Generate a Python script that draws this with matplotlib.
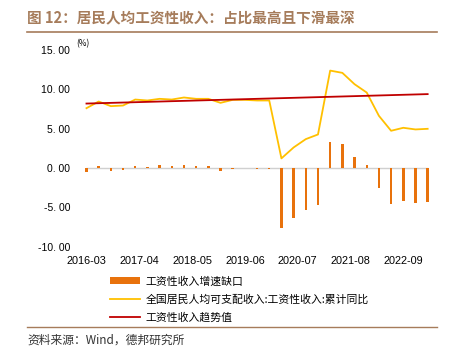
import matplotlib
matplotlib.use("Agg")
import matplotlib.pyplot as plt
from matplotlib.lines import Line2D

plt.rcParams['font.family'] = ['Noto Sans CJK SC', 'DejaVu Sans']

# quarterly points, 2016-03 .. 2023-03, x in months since 2016-03
months = list(range(0, 85, 3))
tick_pos = [0, 13, 26, 39, 52, 65, 78]
tick_labels = ["2016-03", "2017-04", "2018-05", "2019-06", "2020-07", "2021-08", "2022-09"]

wage_yoy = [7.61, 8.46, 7.87, 7.95, 8.71, 8.59, 8.80, 8.71, 8.97, 8.80,
            8.80, 8.29, 8.67, 8.67, 8.59, 8.59, 1.23, 2.62, 3.68, 4.27,
            12.39, 12.10, 10.66, 9.60, 6.64, 4.74, 5.12, 4.91, 4.99]
gap = [-0.45, 0.2, -0.35, -0.25, 0.3, 0.15, 0.35, 0.2, 0.45, 0.25,
       0.2, -0.35, -0.15, 0.05, -0.12, -0.15, -7.66, -6.39, -5.33, -4.65,
       3.34, 3.0, 1.44, 0.42, -2.58, -4.57, -4.19, -4.44, -4.36]
trend_x = [0, 84]
trend = [8.2, 9.4]

brown = "#A67C5B"
orange = "#E8720C"
yellow = "#FFC000"
red = "#C00000"

fig = plt.figure(figsize=(4.57, 3.5), dpi=100)
ax = fig.add_axes([0.175, 0.295, 0.775, 0.562])

ax.hlines(0, 0, 84, color="#D0D0D0", lw=1, zorder=1)
bars = ax.bar(months, gap, width=0.6, color=orange, zorder=2,
              label="工资性收入增速缺口")
l1, = ax.plot(months, wage_yoy, color=yellow, lw=1.3, zorder=3,
              label="全国居民人均可支配收入:工资性收入:累计同比")
l2, = ax.plot(trend_x, trend, color=red, lw=1.3, zorder=4,
              label="工资性收入趋势值")

ax.set_xlim(-1.6, 85.6)
ax.set_ylim(-10, 15)
ax.set_yticks([-10, -5, 0, 5, 10, 15])
ax.set_yticklabels(["-10. 00", "-5. 00", "0. 00", "5. 00", "10. 00", "15. 00"],
                   fontfamily="Liberation Sans", fontsize=7.5)
ax.set_xticks(tick_pos)
ax.set_xticklabels(tick_labels, fontfamily="Liberation Sans", fontsize=7.8)
ax.tick_params(length=0, pad=7)
for s in ax.spines.values():
    s.set_visible(False)

ax.text(-2.6, 15.8, "(%)", fontsize=6, va="center", ha="left")

fig.legend(handles=[bars, l1, l2], loc="upper left",
           bbox_to_anchor=(110 / 457, 1 - 276 / 350), frameon=False, fontsize=7.8,
           handlelength=2.8, handletextpad=0.45, labelspacing=0.75,
           borderpad=0, borderaxespad=0)

fig.text(27 / 457, 1 - 18 / 350, "图 12：居民人均工资性收入：占比最高且下滑最深",
         color=brown, fontsize=10.5, fontweight="bold", va="center", ha="left")
fig.add_artist(Line2D([27 / 457, 437 / 457], [1 - 32 / 350, 1 - 32 / 350],
                      color=brown, lw=1.2))
fig.add_artist(Line2D([27 / 457, 437 / 457], [1 - 327 / 350, 1 - 327 / 350],
                      color=brown, lw=1.0))
fig.text(27 / 457, 1 - 340 / 350, "资料来源：Wind，德邦研究所",
         fontsize=8.5, va="center", ha="left", color="#333333")

fig.savefig("out.png", dpi=100)
